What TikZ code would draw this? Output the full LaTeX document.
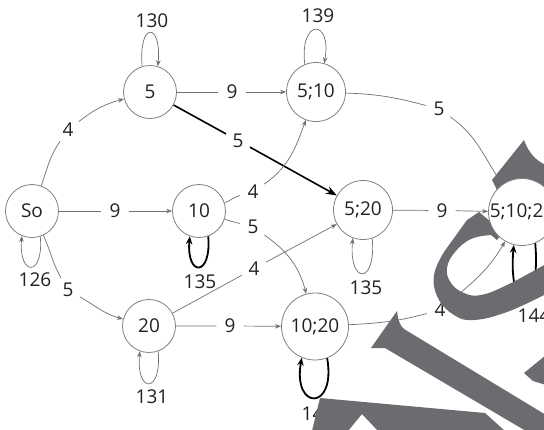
\documentclass[tikz,border=0pt]{standalone}
\usepackage{fontspec}
\setmainfont{Open Sans}
\usetikzlibrary{arrows.meta}
\pgfdeclarelayer{paper}
\pgfdeclarelayer{links}
\pgfdeclarelayer{stamp}
\pgfsetlayers{paper,links,stamp,main}
\definecolor{ink}{HTML}{222222}
\definecolor{rim}{HTML}{808080}
\definecolor{wire}{HTML}{707070}
\definecolor{stampgray}{HTML}{6B6C70}
\begin{document}
\begin{tikzpicture}[x=1pt,y=1pt,
  every node/.style={font=\fontsize{19}{19}\selectfont, text=ink},
  state/.style={circle, draw=rim, line width=0.8pt, fill=white, inner sep=0pt},
  st/.style={state, minimum size=53pt},
  stm/.style={state, minimum size=59pt},
  stl/.style={state, minimum size=67pt},
  wt/.style={circle, inner sep=0pt, minimum size=27pt},
  tag/.style={inner sep=1pt},
  link/.style={draw=wire, line width=0.7pt, -{Stealth[length=6pt,width=4.5pt]}},
  bold/.style={draw=black, line width=1.6pt, -{Stealth[length=11pt,width=8pt]}},
  boldloop/.style={draw=black, line width=1.8pt, -{Stealth[length=8pt,width=6.5pt]}},
]
\useasboundingbox (0,0) rectangle (544,-429);
\begin{pgfonlayer}{paper}
  \fill[white] (0,0) rectangle (544,-429);
\end{pgfonlayer}

% states
\node[st]  (So)     at (32,-211)    {So};
\node[st]  (n5)     at (150,-92)    {5};
\node[st]  (n10)    at (199,-211)   {10};
\node[st]  (n20)    at (149,-326)   {20};
\node[stm] (n510)   at (316,-92)    {5;10};
\node[stm] (n520)   at (363,-210)   {5;20};
\node[stl] (n1020)  at (315,-326.5) {10;20};
\node[stl] (n51020) at (522,-212)   {5;10;20};

\begin{pgfonlayer}{links}
  % edge weights
  \node[wt] (w1)  at (115,-211)   {9};
  \node[wt] (w2)  at (68,-130)    {4};
  \node[wt] (w3)  at (68,-290)    {5};
  \node[wt] (w4)  at (232,-92)    {9};
  \node[wt] (w5)  at (238,-140.5) {5};
  \node[wt] (w6)  at (253,-192)   {4};
  \node[wt] (w7)  at (253,-227)   {5};
  \node[wt] (w8)  at (254,-268.6) {4};
  \node[wt] (w9)  at (230,-326)   {9};
  \node[wt] (w10) at (439,-109)   {5};
  \node[wt] (w11) at (442,-210.5) {9};
  \node[wt] (w12) at (440,-310)   {4};

  % transitions
  \draw[link] (So) -- (w1) -- (n10);
  \draw[link] (So) to[out=70,in=235] (w2) to[out=38,in=195] (n5);
  \draw[link] (So) to[out=-65,in=120] (w3) to[out=-30,in=165] (n20);
  \draw[link] (n5) -- (w4) -- (n510);
  \draw[bold] (n5) -- (w5) -- (n520);
  \draw[link] (n10) to[out=18,in=195] (w6) to[out=35,in=250] (n510);
  \draw[link] (n10) to[out=-18,in=165] (w7) to[out=-35,in=105] (n1020);
  \draw[link] (n20) -- (w8) -- (n520);
  \draw[link] (n20) -- (w9) -- (n1020);
  \draw[link] (n510) to[out=-2,in=165] (w10) to[out=-35,in=125] (n51020);
  \draw[link] (n520) -- (w11) -- (n51020);
  \draw[link] (n1020) to[out=3,in=195] (w12) to[out=40,in=240] (n51020);

  % self loops
  \draw[link] (n5.107) .. controls +(95:45) and +(85:45) .. (n5.73);
  \node[tag] (t5) at (152,-21) {130};
  \draw[link] (n510.112) .. controls +(97:46) and +(80:46) .. (n510.74);
  \node[tag] (t510) at (318,-16) {139};
  \draw[link] (So.288) .. controls +(-85:41) and +(-95:41) .. (So.248);
  \node[tag] (tSo) at (35,-280) {126};
  \draw[boldloop] (n10.290) .. controls +(-85:41) and +(-95:41) .. (n10.250);
  \node[tag] (t10) at (200,-282) {135};
  \draw[link] (n20.290) .. controls +(-85:43) and +(-95:43) .. (n20.250);
  \node[tag] (t20) at (152,-397) {131};
  \draw[link] (n520.288) .. controls +(-85:47) and +(-95:47) .. (n520.250);
  \node[tag] (t520) at (366,-288) {135};
  \draw[boldloop] (n1020.291) .. controls +(-80:54) and +(-100:54) .. (n1020.247);
  \node[tag] (t1020) at (318,-414) {140};
  \draw[boldloop] (n51020.293) .. controls +(-85:72) and +(-95:72) .. (n51020.256);
  \node[tag] (t51020) at (534,-316) {144};
\end{pgfonlayer}

% stamp lettering lying across the lower right
\begin{pgfonlayer}{stamp}
  \fill[stampgray] (371,-348) -- (397,-311)
    .. controls (398,-320) and (400,-326) .. (404,-329)
    -- (546,-415) -- (546,-431) -- (526,-431) -- (385,-348) -- cycle;
  \fill[stampgray] (312,-431) -- (320,-398) -- (485,-413) -- (505,-431)
    -- (378,-431) -- (362,-414) -- (348,-431) -- cycle;
  \fill[stampgray] (467,-220) -- (479,-212) -- (503,-232) -- (497,-240)
    -- plot[smooth,tension=0.7] coordinates {(491,-235) (471,-239) (455,-252)
       (447,-268) (451,-283) (464,-293) (481,-295) (507,-285) (546,-264)}
    -- (546,-295)
    -- plot[smooth,tension=0.7] coordinates {(544,-295) (507,-312) (474,-320)
       (454,-315) (438,-298) (434,-275) (444,-252)}
    -- cycle;
  \fill[stampgray] (492,-180) -- (524,-140)
    .. controls (528,-152) and (536,-161) .. (546,-165)
    -- (546,-230) -- (515,-230) -- (496,-188) -- cycle;
  \fill[stampgray] (524,-373) -- (546,-355) -- (546,-385) -- (533,-381) -- cycle;
\end{pgfonlayer}
\end{tikzpicture}
\end{document}
